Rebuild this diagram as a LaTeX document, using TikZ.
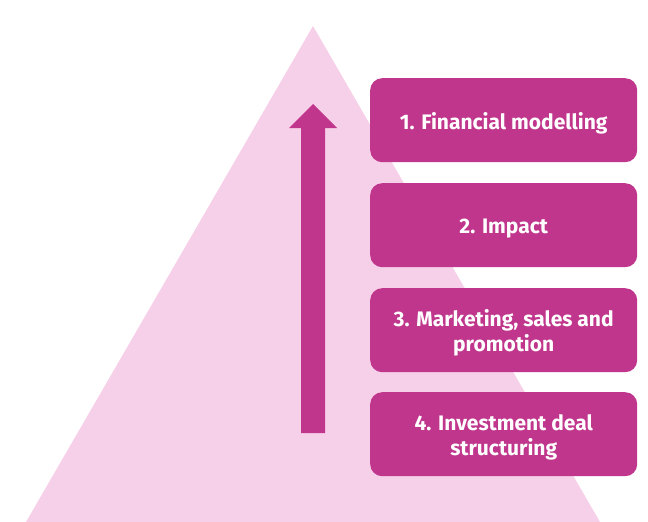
\documentclass[tikz,border=0pt]{standalone}
\usepackage{fontspec}
\setmainfont{Fira Sans}
\definecolor{mag}{HTML}{C0368C}
\definecolor{lpink}{HTML}{F6D0E8}
\begin{document}
\begin{tikzpicture}[x=1pt,y=-1pt,
  stagebox/.style={fill=mag, rounded corners=12pt, minimum width=267pt, minimum height=84pt,
    inner sep=0pt, anchor=north west},
  stagetext/.style={text=white, font=\fontsize{21}{25}\selectfont\bfseries, align=center, inner sep=0pt}]
\useasboundingbox (0,0) rectangle (648,522);
\fill[lpink] (313,26) -- (600,522) -- (26,522) -- cycle;
\node[stagebox] (b1) at (370,78) {};
\node[stagebox] (b2) at (370,183) {};
\node[stagebox] (b3) at (370,288) {};
\node[stagebox] (b4) at (370,392) {};
\node[stagetext] (t1) at ([yshift=-3pt]b1.center) {1. Financial modelling};
\node[stagetext] (t2) at ([yshift=-3pt]b2.center) {2. Impact};
\node[stagetext] (t3) at ([yshift=-3pt]b3.center) {3. Marketing, sales and\\promotion};
\node[stagetext] (t4) at ([yshift=-3pt]b4.center) {4. Investment deal\\structuring};
\coordinate (abot) at (313,433);
\coordinate (atop) at (313,104);
\fill[mag] (301,433) -- (301,128) -- (289,128) -- (atop) -- (337,128) -- (325,128) -- (325,433) -- cycle;
\end{tikzpicture}
\end{document}
